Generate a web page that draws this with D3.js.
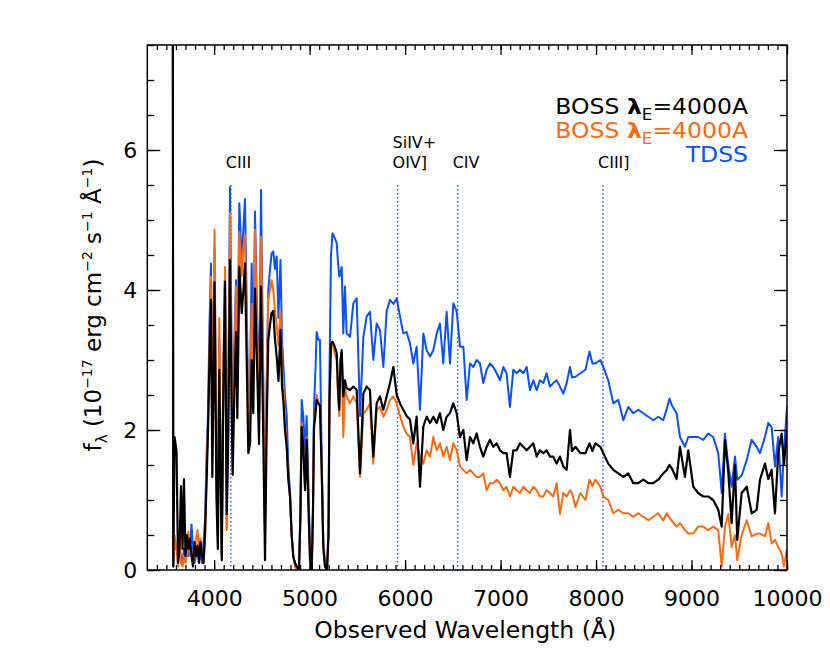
<!DOCTYPE html>
<html><head><meta charset="utf-8">
<script src="https://cdn.jsdelivr.net/npm/d3@7"></script>
<style>body{margin:0;background:#fff}svg{display:block}</style>
</head><body>
<svg id="chart" width="830" height="664"></svg>
<script>
// ---------- data ----------
const wavelength = [
3565,3572,3585,3606,3622,3637,3653,3669,3684,3700,
3716,3731,3747,3763,3779,3794,3810,3826,3841,3857,
3873,3889,3904,3920,3936,3951,3967,3981,3993,4004,
4025,4039,4054,4067,4080,4096,4114,4132,4149,4166,
4182,4194,4211,4229,4243,4264,4289,4307,4323,4341,
4358,4376,4393,4410,4428,4452,4470,4491,4515,4533,
4550,4567,4585,4601,4620,4637,4655,4674,4695,4711,
4726,4742,4760,4777,4795,4812,4829,4847,4868,4889,
4904,4917,4934,4952,4969,4986,5004,5022,5035,5046,
5062,5074,5091,5108,5126,5143,5161,5182,5198,5208,
5224,5240,5261,5284,5297,5311,5323,5336,5353,5370,
5388,5423,5458,5493,5528,5563,5597,5632,5667,5702,
5737,5772,5807,5842,5877,5912,5947,5981,6016,6051,
6086,6121,6156,6191,6226,6261,6296,6331,6365,6400,
6435,6470,6505,6540,6575,6610,6645,6680,6714,6749,
6784,6819,6854,6889,6924,6959,6994,7029,7063,7098,
7133,7168,7203,7238,7273,7308,7343,7378,7412,7447,
7482,7517,7552,7587,7622,7657,7692,7727,
7748,7784,7836,
7889,7931,7962,7993,8045,8076,8128,8181,8233,8286,
8338,8390,8442,8495,8547,8599,8652,8704,8740,8769,
8795,8844,8879,8931,8966,9018,9070,9123,9175,9227,
9280,9316,9350,9385,9420,9455,9479,9525,9578,9630,
9682,9717,9769,9804,9839,9874,9908,9944,9968,10000];

const fluxBossBlack = [
12,0.05,1.9,1.7,0.1,0.3,1.2,0.3,1.3,0.2,
0.5,0.3,0.45,0.2,0.05,0.4,0.2,0.35,0.1,0.4,
0.2,0.1,0.5,1.2,2.0,3.0,3.86,1.33,2.5,4.11,
1.0,0.3,2.86,1.5,0.14,2.5,4.12,0.8,2.0,4.43,
2.5,1.36,2.5,3.4,2.17,4.33,3.67,4.0,4.38,3.0,
1.67,1.8,3.0,2.24,4.02,2.8,1.8,4.05,1.86,0.14,
2.0,3.29,3.5,3.67,3.7,3.3,3.05,2.7,3.43,2.62,
2.4,2.0,1.76,1.3,1.05,0.5,0.19,0.1,0.04,0.0,
0.8,2.04,1.76,1.14,1.86,1.0,0.14,0.0,0.8,2.04,
2.24,2.43,2.38,2.35,1.47,0.33,0.05,0.0,0.5,2.43,
3.24,3.26,3.2,3.1,2.6,2.29,3.0,3.14,2.48,2.71,
2.6,2.57,2.62,2.57,1.38,2.52,2.62,2.57,1.62,2.38,
2.48,2.29,2.48,2.67,2.9,2.5,2.38,2.29,2.2,2.15,
1.81,2.19,1.19,2.05,2.19,2.1,2.19,2.1,2.24,2.0,
2.19,2.24,2.38,2.24,1.9,2.0,1.57,1.9,1.81,1.95,
1.76,1.62,1.76,1.86,1.76,1.81,1.71,1.67,1.67,1.33,
1.71,1.71,1.81,1.76,1.71,1.76,1.81,1.62,1.71,1.67,
1.71,1.62,1.62,1.52,1.62,1.48,1.43,2.0,
1.7,1.76,1.67,
1.67,1.81,1.7,1.81,1.76,1.67,1.52,1.43,1.38,1.33,
1.38,1.24,1.24,1.29,1.24,1.24,1.29,1.38,1.43,1.5,
1.45,1.3,1.76,1.33,1.71,1.19,1.1,1.05,1.05,1.0,
0.86,0.62,1.86,1.4,0.67,1.5,0.43,1.1,1.19,0.81,
0.86,1.29,1.52,1.3,1.43,0.81,1.67,1.95,1.5,2.0];

const fluxBossOrange = [
12,0.05,0.5,0.3,0.05,0.5,0.1,0.05,0.2,0.1,
0.2,0.55,0.2,0.3,0.1,0.2,0.45,0.57,0.3,0.45,
0.2,0.1,0.4,1.4,2.1,3.2,4.19,1.6,3.5,4.86,
1.5,0.47,3.6,1.8,0.2,2.8,4.33,0.57,2.5,5.1,
3.0,1.6,3.0,4.05,2.8,4.83,4.2,4.6,4.79,3.5,
2.0,2.3,3.8,2.7,4.86,3.3,2.2,4.76,2.5,0.5,
2.6,3.86,4.0,4.14,4.0,3.7,3.5,3.2,3.7,2.9,
2.6,2.1,1.8,1.3,1.0,0.5,0.2,0.05,0.0,0.05,
0.7,2.1,1.8,1.2,1.9,1.0,0.2,0.0,0.8,2.1,
2.3,2.5,2.4,2.35,1.5,0.35,0.05,0.0,0.5,2.4,
3.2,3.25,3.1,3.0,2.5,2.2,2.9,3.1,1.9,2.6,
2.48,2.38,2.48,2.38,1.33,2.24,2.29,2.38,1.52,2.29,
2.33,2.19,2.29,2.43,2.48,2.38,2.2,2.05,1.95,1.9,
1.5,1.81,1.62,1.52,1.71,1.62,1.9,1.71,1.81,1.62,
1.76,1.57,1.81,1.71,1.48,1.43,1.38,1.43,1.38,1.33,
1.33,1.38,1.14,1.24,1.24,1.29,1.24,1.14,1.19,1.05,
1.19,1.14,1.1,1.19,1.14,1.1,1.19,1.14,1.05,1.05,
1.14,1.1,1.05,1.24,0.8,1.1,1.05,1.14,
1.1,0.9,1.1,
1.0,1.29,1.2,1.29,1.19,1.05,1.0,0.81,0.86,0.81,
0.81,0.76,0.81,0.76,0.71,0.76,0.81,0.71,0.81,0.75,
0.7,0.62,0.67,0.57,0.52,0.52,0.62,0.62,0.57,0.62,
0.57,0.05,0.62,0.8,0.33,0.5,0.14,0.5,0.71,0.48,
0.52,0.52,0.48,0.67,0.38,0.43,0.33,0.24,0.05,0.3];

const fluxTdss = [
12,0.05,0.4,0.3,0.2,0.3,0.2,0.1,0.3,0.2,
0.3,0.2,0.3,0.65,0.3,0.1,0.2,0.3,0.15,0.2,
0.1,0.4,0.7,1.6,2.24,3.5,4.38,1.7,3.3,4.6,
1.3,0.4,3.3,1.6,0.2,2.7,4.2,0.6,2.7,5.47,
3.3,1.8,3.2,4.14,2.9,5.24,4.4,4.9,5.3,3.8,
2.3,2.7,4.38,3.0,5.12,3.5,2.4,5.43,2.7,0.6,
2.6,4.0,4.29,4.52,4.55,4.3,4.48,3.6,4.43,3.3,
2.9,2.5,2.21,1.5,1.1,0.5,0.2,0.1,0.05,0.0,
0.9,2.43,2.2,1.7,2.2,1.3,0.3,0.0,0.9,2.3,
2.9,3.4,3.29,3.29,1.6,0.4,0.1,0.0,0.6,2.8,
4.5,4.81,4.75,4.67,4.4,4.19,4.25,4.33,3.38,4.05,
3.38,3.33,3.81,3.88,2.2,3.33,3.62,3.69,3.0,3.52,
3.43,2.9,3.7,3.86,3.8,3.88,3.62,3.38,3.4,3.24,
2.95,3.19,2.29,3.38,3.14,3.05,3.14,3.38,3.52,2.95,
3.69,2.95,3.81,3.7,3.19,3.19,2.43,2.95,2.9,3.0,
2.95,2.67,2.86,2.95,2.9,2.81,2.71,2.9,2.81,2.33,
2.86,2.81,2.86,2.81,2.9,2.57,2.71,2.57,2.71,2.67,
2.81,2.62,2.67,2.71,2.62,2.52,2.67,2.9,
2.75,2.76,2.81,
2.86,3.12,2.95,2.95,3.0,2.9,2.71,2.38,2.43,2.14,
2.33,2.24,2.29,2.24,2.19,2.14,2.19,2.14,2.3,2.45,
2.35,2.24,1.9,1.76,1.9,1.9,1.9,1.86,1.95,1.9,
1.67,1.1,1.95,1.5,1.19,1.62,1.29,1.35,1.57,1.86,
1.76,1.67,1.9,2.1,2.04,1.48,1.9,1.05,1.7,2.33];

const emissionLabels = [["CIII"], ["SiIV+", "OIV]"], ["CIV"], ["CIII]"]];
const emissionWavelengths = [4175, 5921, 6551, 8073];
const emissionLineTop = 5.5;

const xMajorTicks = [4000, 5000, 6000, 7000, 8000, 9000, 10000];
const xMinorTicks = d3.range(3400, 10001, 100);
const yMajorTicks = [0, 2, 4, 6];
const yMinorTicks = [0, 0.5, 1, 1.5, 2, 2.5, 3, 3.5, 4, 4.5, 5, 5.5, 6, 6.5, 7, 7.5];

const seriesNames = ["TDSS", "BOSS λE=4000A", "BOSS λE=4000A"];
const seriesColors = ["#0a50ff", "#ff6a10", "#000000"];

// ---------- chart ----------
const W = 830, H = 664;
const L = 147.3, R = 787, T = 45, B = 570;
const FONT = "'DejaVu Sans', 'Liberation Sans', sans-serif";
const svg = d3.select("#chart");
svg.append("rect").attr("width", W).attr("height", H).attr("fill", "#fff");

const x = d3.scaleLinear().domain([3300, 10000]).range([L, R]);
const y = d3.scaleLinear().domain([0, 7.5]).range([B, T]);

svg.append("defs").append("clipPath").attr("id", "plotclip")
  .append("rect").attr("x", L).attr("y", T).attr("width", R - L).attr("height", B - T);

// emission line markers
const em = svg.append("g");
emissionWavelengths.forEach((w, i) => {
  em.append("line")
    .attr("x1", x(w)).attr("x2", x(w))
    .attr("y1", y(emissionLineTop)).attr("y2", y(0))
    .attr("stroke", "#2a5cff").attr("stroke-width", 1.5)
    .attr("stroke-dasharray", "1.5,2.5");
  const lines = emissionLabels[i];
  const t = em.append("text")
    .attr("font-family", FONT).attr("font-size", 16).attr("fill", "#000");
  lines.forEach((s, j) => {
    t.append("tspan")
      .attr("x", x(w) - 5)
      .attr("y", y(emissionLineTop) - 17 - (lines.length - 1 - j) * 20)
      .text(s);
  });
});

// spectra
const spectra = [fluxTdss, fluxBossOrange, fluxBossBlack];
const widths = [2, 2, 2.2];
const line = d3.line().x(d => x(d[0])).y(d => y(d[1]));
const gData = svg.append("g").attr("clip-path", "url(#plotclip)");
spectra.forEach((fl, k) => {
  const n = Math.min(wavelength.length, fl.length);
  const pts = wavelength.slice(0, n).map((w, i) => [w, fl[i]]);
  gData.append("path").datum(pts)
    .attr("d", line).attr("fill", "none")
    .attr("stroke", seriesColors[k]).attr("stroke-width", widths[k])
    .attr("stroke-linejoin", "round");
});

// axes
function styleAxis(g) {
  g.select(".domain").remove();
  g.selectAll("line").attr("stroke", "#000").attr("stroke-width", 1.3);
  g.selectAll("text").attr("font-family", FONT).attr("font-size", 22).attr("fill", "#000");
}
svg.append("g").attr("transform", `translate(0,${B})`)
  .call(d3.axisBottom(x).tickValues(xMinorTicks).tickSize(-5).tickFormat("")).call(styleAxis);
svg.append("g").attr("transform", `translate(0,${B})`)
  .call(d3.axisBottom(x).tickValues(xMajorTicks).tickSize(-10).tickPadding(20).tickFormat(d3.format("d"))).call(styleAxis);
svg.append("g").attr("transform", `translate(0,${T})`)
  .call(d3.axisTop(x).tickValues(xMinorTicks).tickSize(-5).tickFormat("")).call(styleAxis);
svg.append("g").attr("transform", `translate(0,${T})`)
  .call(d3.axisTop(x).tickValues(xMajorTicks).tickSize(-10).tickFormat("")).call(styleAxis);
svg.append("g").attr("transform", `translate(${L},0)`)
  .call(d3.axisLeft(y).tickValues(yMinorTicks).tickSize(-7).tickFormat("")).call(styleAxis);
svg.append("g").attr("transform", `translate(${L},0)`)
  .call(d3.axisLeft(y).tickValues(yMajorTicks).tickSize(-13).tickPadding(10).tickFormat(d3.format("d"))).call(styleAxis);
svg.append("g").attr("transform", `translate(${R},0)`)
  .call(d3.axisRight(y).tickValues(yMinorTicks).tickSize(-7).tickFormat("")).call(styleAxis);
svg.append("g").attr("transform", `translate(${R},0)`)
  .call(d3.axisRight(y).tickValues(yMajorTicks).tickSize(-13).tickFormat("")).call(styleAxis);

svg.append("rect").attr("x", L).attr("y", T).attr("width", R - L).attr("height", B - T)
  .attr("fill", "none").attr("stroke", "#000").attr("stroke-width", 1.5);

// axis titles
svg.append("text").attr("x", (L + R) / 2 - 2).attr("y", 638)
  .attr("text-anchor", "middle").attr("font-family", FONT).attr("font-size", 23.5)
  .text("Observed Wavelength (Å)");

const yt = svg.append("text")
  .attr("transform", "translate(101,305) rotate(-90)")
  .attr("text-anchor", "middle").attr("font-family", FONT).attr("font-size", 23);
const ytParts = [
  ["f", 0, 23], ["λ", 6, 15], [" (10", -6, 23], ["−17", -9, 14], [" erg cm", 9, 23],
  ["−2", -9, 14], [" s", 9, 23], ["−1", -9, 14], [" Å", 9, 23], ["−1", -9, 14], [")", 9, 23]
];
ytParts.forEach(p => yt.append("tspan").attr("dy", p[1]).attr("font-size", p[2]).text(p[0]));

// legend
const legendY = [114, 138, 162];
const legendOrder = [2, 1, 0];
legendOrder.forEach((k, i) => {
  const t = svg.append("text")
    .attr("transform", `translate(748,${legendY[i]}) scale(1.12,1)`)
    .attr("text-anchor", "end").attr("font-family", FONT).attr("font-size", 21)
    .attr("fill", seriesColors[k]);
  const name = seriesNames[k];
  if (name.indexOf("λ") >= 0) {
    const parts = name.split("λE");
    t.append("tspan").text(parts[0] + " ");
    t.append("tspan").attr("font-weight", "bold").text("λ");
    t.append("tspan").attr("font-size", 15).attr("dy", 6).text("E");
    t.append("tspan").attr("dy", -6).text(parts[1]);
  } else {
    t.text(name);
  }
});
</script>
</body></html>
